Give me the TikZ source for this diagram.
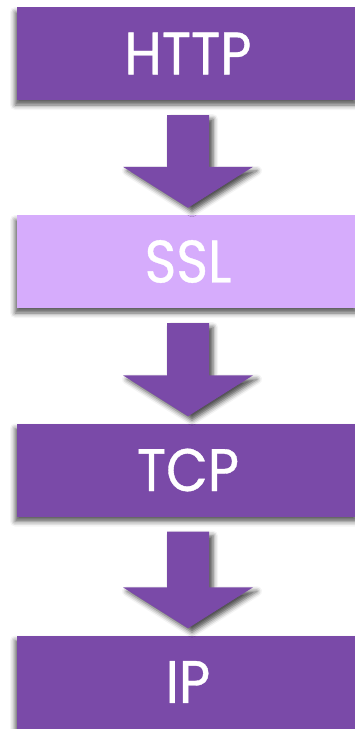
\documentclass[tikz,border=0pt]{standalone}
\usepackage{fontspec}
\setmainfont{Poppins}[FakeStretch=0.9, FakeBold=0.6]
\usetikzlibrary{calc,shadows.blur}
\definecolor{layerdark}{HTML}{7A4AA8}
\definecolor{layerlight}{HTML}{D6ACFC}
\tikzset{
  layer/.style={rectangle, minimum width=342pt, minimum height=93pt, inner sep=0pt,
    fill=layerdark, text=white, font=\fontsize{60}{60}\selectfont,
    blur shadow={shadow xshift=-2pt, shadow yshift=-5pt, shadow blur radius=5pt, shadow opacity=65}},
  lightlayer/.style={layer, fill=layerlight},
  flowarrow/.style={fill=layerdark,
    blur shadow={shadow xshift=4pt, shadow yshift=-4pt, shadow blur radius=5pt, shadow opacity=70}}
}
% block arrow from the bottom of one layer to the top of the next
\newcommand\layerarrow[2]{%
  \fill[flowarrow] let \p1=($(#1.south)+(0,15)$), \p2=($(#2.north)+(0,-7)$) in
    (\x1-21pt,\y1) -- (\x1+21pt,\y1) -- (\x1+21pt,\y2+41pt) -- (\x1+65pt,\y2+41pt)
    -- (\x2,\y2) -- (\x1-65pt,\y2+41pt) -- (\x1-21pt,\y2+41pt) -- cycle;}
\begin{document}
\begin{tikzpicture}[x=1pt,y=-1pt]
  \useasboundingbox (0,0) rectangle (355,729);
  \clip (0,0) rectangle (355,729);
  \node[layer]      (http) at (188,53.5)  {HTTP};
  \node[lightlayer] (ssl)  at (188,261.5) {SSL};
  \node[layer]      (tcp)  at (188,470)   {TCP};
  \node[layer]      (ip)   at (188,682)   {IP};
  \layerarrow{http}{ssl}
  \layerarrow{ssl}{tcp}
  \layerarrow{tcp}{ip}
\end{tikzpicture}
\end{document}
